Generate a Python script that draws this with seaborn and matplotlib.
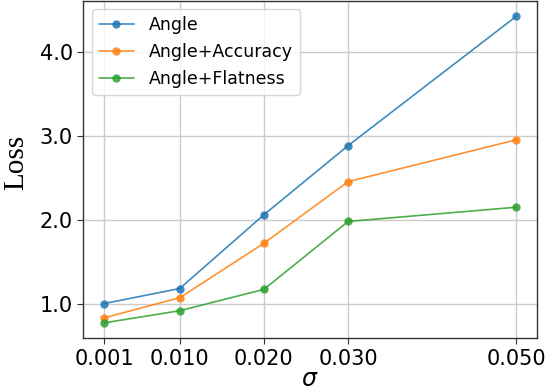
import matplotlib
matplotlib.use("Agg")
import matplotlib.pyplot as plt
import seaborn as sns
import pandas as pd

sigma = [0.001, 0.010, 0.020, 0.030, 0.050]
sigma_labels = ["0.001", "0.010", "0.020", "0.030", "0.050"]
loss_angle = [1.00, 1.18, 2.06, 2.885, 4.43]
loss_accuracy = [0.83, 1.07, 1.72, 2.455, 2.955]
loss_flatness = [0.77, 0.915, 1.17, 1.98, 2.15]
methods = ["Angle", "Angle+Accuracy", "Angle+Flatness"]

df = pd.DataFrame({
    "sigma": sigma * 3,
    "loss": loss_angle + loss_accuracy + loss_flatness,
    "method": [m for m in methods for _ in sigma],
})

sns.set_style("white")
plt.rcParams["font.family"] = ["DejaVu Sans"]
plt.rcParams["text.color"] = "black"
plt.rcParams["axes.labelcolor"] = "black"
plt.rcParams["xtick.color"] = "black"
plt.rcParams["ytick.color"] = "black"

fig, ax = plt.subplots(figsize=(5.52, 3.91), dpi=100)
fig.subplots_adjust(left=0.151, right=0.973, top=0.998, bottom=0.135)

palette = ["#1f77b4", "#ff7f0e", "#2ca02c"]
sns.lineplot(data=df, x="sigma", y="loss", hue="method", palette=palette,
             marker="o", markersize=6, markeredgewidth=0, linewidth=1.2,
             alpha=0.85, ax=ax)

ax.set_xticks(sigma)
ax.set_xticklabels(sigma_labels)
ax.set_yticks([1.0, 2.0, 3.0, 4.0])
ax.set_yticklabels(["1.0", "2.0", "3.0", "4.0"])
ax.tick_params(axis="both", labelsize=15, length=4, width=0.8, direction="out",
               left=True, bottom=True, color="#333333", labelcolor="black")
ax.grid(True, color="#cccccc", linewidth=1)
ax.set_axisbelow(True)
for s in ax.spines.values():
    s.set_color("#333333")
    s.set_linewidth(1)

ax.set_xlabel(r"$\sigma$", fontsize=17, labelpad=-1)
ax.set_ylabel("Loss", fontsize=21, family="Liberation Serif", labelpad=8)
ax.yaxis.set_label_coords(-0.12, 0.52)

leg = ax.legend(loc="upper left", fontsize=12.5, frameon=True,
                borderaxespad=0.5, handletextpad=0.9)
leg.get_frame().set_edgecolor("#cccccc")

fig.savefig("out.png", dpi=100)
